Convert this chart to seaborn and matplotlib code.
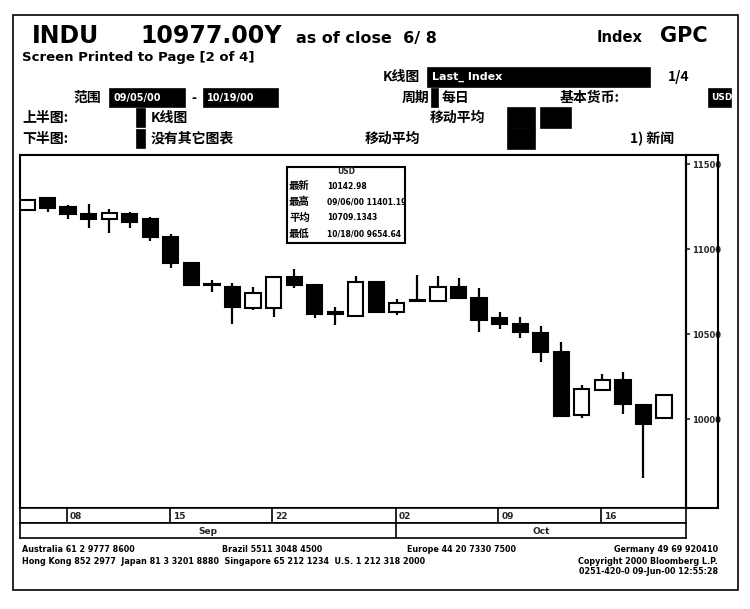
import numpy as np
import pandas as pd
import matplotlib
import matplotlib.pyplot as plt
import seaborn as sns
from matplotlib.patches import Rectangle

matplotlib.use("Agg")

# daily bars, INDU, 6 Sep - 19 Oct 2000
dates = ["09/06", "09/07", "09/08", "09/11", "09/12", "09/13", "09/14", "09/15",
         "09/18", "09/19", "09/20", "09/21", "09/22", "09/25", "09/26", "09/27",
         "09/28", "09/29", "10/02", "10/03", "10/04", "10/05", "10/06", "10/09",
         "10/10", "10/11", "10/12", "10/13", "10/16", "10/17", "10/18", "10/19"]
opens = [11231, 11300, 11251, 11206, 11176, 11206, 11178, 11071,
         10918, 10795, 10776, 10653, 10656, 10839, 10790, 10626,
         10608, 10806, 10633, 10702, 10698, 10780, 10715, 10594,
         10561, 10509, 10398, 10025, 10172, 10231, 10084, 10009]
highs = [11296, 11302, 11261, 11266, 11237, 11218, 11192, 11090,
         10927, 10819, 10804, 10776, 10839, 10882, 10796, 10659,
         10843, 10806, 10706, 10849, 10843, 10833, 10771, 10629,
         10604, 10549, 10456, 10202, 10265, 10280, 10084, 10143]
lows = [11225, 11220, 11178, 11124, 11094, 11124, 11049, 10892,
        10784, 10751, 10561, 10643, 10604, 10771, 10594, 10555,
        10608, 10633, 10614, 10694, 10698, 10708, 10512, 10531,
        10480, 10335, 10012, 10006, 10172, 10029, 9655, 10009]
closes = [11290, 11241, 11206, 11176, 11212, 11159, 11071, 10918,
          10790, 10789, 10662, 10741, 10839, 10790, 10619, 10622,
          10806, 10633, 10686, 10694, 10776, 10715, 10584, 10559,
          10512, 10394, 10019, 10177, 10231, 10088, 9972, 10143]

day_ticks = ["09/08", "09/15", "09/22", "10/02", "10/09", "10/16"]
day_labels = ["08", "15", "22", "02", "09", "16"]
months = ["Sep", "Oct"]
month_start = "10/02"
y_ticks = [10000, 10500, 11000, 11500]

info_rows = [("最新", "10142.98"),
             ("最高", "09/06/00 11401.19"),
             ("平均", "10709.1343"),
             ("最低", "10/18/00 9654.64")]

W, H = 750, 609
CJK = ["Noto Sans CJK SC", "DejaVu Sans"]

sns.set_theme(style="white")
plt.rcParams["font.family"] = CJK
plt.rcParams["font.weight"] = "bold"

fig = plt.figure(figsize=(W / 100, H / 100), dpi=100)
fig.patch.set_facecolor("white")


def fx(x):
    return x / W


def fy(y):
    return 1 - y / H


def txt(x, y, s, size=9, ha="left", color="black", **kw):
    fig.text(fx(x), fy(y), s, fontsize=size, ha=ha, va="center", color=color,
             fontweight="bold", **kw)


def box(x0, y0, x1, y1, fill=False, lw=1.2):
    fig.add_artist(Rectangle((fx(x0), fy(y1)), fx(x1) - fx(x0), fy(y0) - fy(y1),
                             transform=fig.transFigure, fill=fill,
                             facecolor="black", edgecolor="black", linewidth=lw))


# --- outer frame + header ---
box(13, 15, 738, 590, lw=1.2)
txt(32, 36, "INDU", size=17, family="DejaVu Sans")
txt(140, 36, "10977.00Y", size=17, family="DejaVu Sans")
txt(296, 38, "as of close  6/ 8", size=11.5, family="DejaVu Sans")
txt(597, 37, "Index", size=10.5, family="DejaVu Sans")
txt(660, 36, "GPC", size=15, family="DejaVu Sans")
txt(22, 58, "Screen Printed to Page [2 of 4]", size=9.5, family="DejaVu Sans")

txt(420, 77, "K线图", size=10, ha="right")
box(428, 68, 650, 87, fill=True)
txt(432, 77, "Last_ Index", size=8, color="white", family="DejaVu Sans")
txt(668, 77, "1/4", size=10)

txt(101, 98, "范围", size=10, ha="right")
box(110, 89, 185, 107, fill=True)
txt(113, 98, "09/05/00", size=7, color="white", family="DejaVu Sans")
txt(191, 98, "-", size=10)
box(204, 89, 278, 107, fill=True)
txt(207, 98, "10/19/00", size=7, color="white", family="DejaVu Sans")
txt(429, 98, "周期", size=10, ha="right")
box(432, 89, 438, 107, fill=True)
txt(442, 98, "每日", size=10)
txt(560, 98, "基本货币:", size=10)
box(709, 89, 731, 107, fill=True)
txt(711, 98, "USD", size=6.5, color="white", family="DejaVu Sans")

txt(22, 118, "上半图:", size=10)
box(137, 109, 145, 127, fill=True)
txt(151, 118, "K线图", size=10)
txt(430, 118, "移动平均", size=10)
box(508, 108, 535, 128, fill=True)
box(541, 108, 571, 128, fill=True)

txt(22, 139, "下半图:", size=10)
box(137, 130, 145, 148, fill=True)
txt(151, 139, "没有其它图表", size=10)
txt(365, 139, "移动平均", size=10)
box(508, 129, 535, 149, fill=True)
txt(630, 139, "1) 新闻", size=10)

# --- candlestick panel ---
df = pd.DataFrame({"date": dates, "open": opens, "high": highs,
                   "low": lows, "close": closes})
df["x"] = np.arange(len(df))
df["up"] = df["close"] >= df["open"]
df["body_lo"] = df[["open", "close"]].min(axis=1)
df["body_h"] = (df["close"] - df["open"]).abs().clip(lower=8)

xlim = (-0.34, 32.07)
ax = fig.add_axes([fx(20), fy(508), fx(686) - fx(20), fy(155) - fy(508)])
ax.vlines(df["x"], df["low"], df["high"], color="black", linewidth=1.6, zorder=1)
ax.bar(df["x"], df["body_h"], bottom=df["body_lo"], width=0.74,
       color=np.where(df["up"], "white", "black"), edgecolor="black",
       linewidth=1.5, zorder=2)
ax.set_xlim(*xlim)
ax.set_ylim(9478, 11555)
ax.set_xticks([])
ax.yaxis.tick_right()
ax.set_yticks(y_ticks)
ax.set_yticklabels([str(v) for v in y_ticks], fontsize=6, fontweight="bold",
                   family="DejaVu Sans")
ax.tick_params(axis="y", direction="out", length=3, width=1.2, pad=1, right=True)
for s in ax.spines.values():
    s.set_color("black")
    s.set_linewidth(1.5)
ax.grid(False)

# price-label column
box(686, 155, 718, 508, lw=1.5)

# info box
box(287, 167, 405, 243, lw=1.5)
fig.text(fx(346), fy(172), "USD", fontsize=5.5, ha="center", va="center",
         fontweight="bold", family="DejaVu Sans")
for i, (lab, val) in enumerate(info_rows):
    yy = 186 + i * 16
    txt(289, yy, lab, size=7.5)
    txt(327, yy, val, size=5.5, family="DejaVu Sans")

# --- date rows ---
pos = {d: i for i, d in enumerate(dates)}
ax_d = fig.add_axes([fx(20), fy(523), fx(686) - fx(20), fy(508) - fy(523)])
ax_d.set_xlim(*xlim)
ax_d.set_ylim(0, 1)
for d, lab in zip(day_ticks, day_labels):
    xv = pos[d] - 0.06
    ax_d.axvline(xv, color="black", linewidth=1.2)
    ax_d.text(xv + 0.15, 0.45, lab, fontsize=6.5, fontweight="bold",
              va="center", ha="left", family="DejaVu Sans")

ax_m = fig.add_axes([fx(20), fy(538), fx(686) - fx(20), fy(523) - fy(538)])
ax_m.set_xlim(*xlim)
ax_m.set_ylim(0, 1)
split = pos[month_start] - 0.06
ax_m.axvline(split, color="black", linewidth=1.2)
ax_m.text((xlim[0] + split) / 2, 0.45, months[0], fontsize=6.5, ha="center",
          va="center", fontweight="bold", family="DejaVu Sans")
ax_m.text((split + xlim[1]) / 2, 0.45, months[1], fontsize=6.5, ha="center",
          va="center", fontweight="bold", family="DejaVu Sans")

for a in (ax_d, ax_m):
    a.set_xticks([])
    a.set_yticks([])
    for s in a.spines.values():
        s.set_color("black")
        s.set_linewidth(1.2)

# --- footer ---
ft = dict(size=5.8, family="DejaVu Sans")
txt(22, 550, "Australia 61 2 9777 8600", **ft)
txt(222, 550, "Brazil 5511 3048 4500", **ft)
txt(407, 550, "Europe 44 20 7330 7500", **ft)
txt(718, 550, "Germany 49 69 920410", ha="right", **ft)
txt(22, 561, "Hong Kong 852 2977  Japan 81 3 3201 8880  Singapore 65 212 1234  U.S. 1 212 318 2000", **ft)
txt(718, 561, "Copyright 2000 Bloomberg L.P.", ha="right", **ft)
txt(718, 572, "0251-420-0 09-Jun-00 12:55:28", ha="right", **ft)

fig.savefig("out.png", dpi=100, facecolor="white")
